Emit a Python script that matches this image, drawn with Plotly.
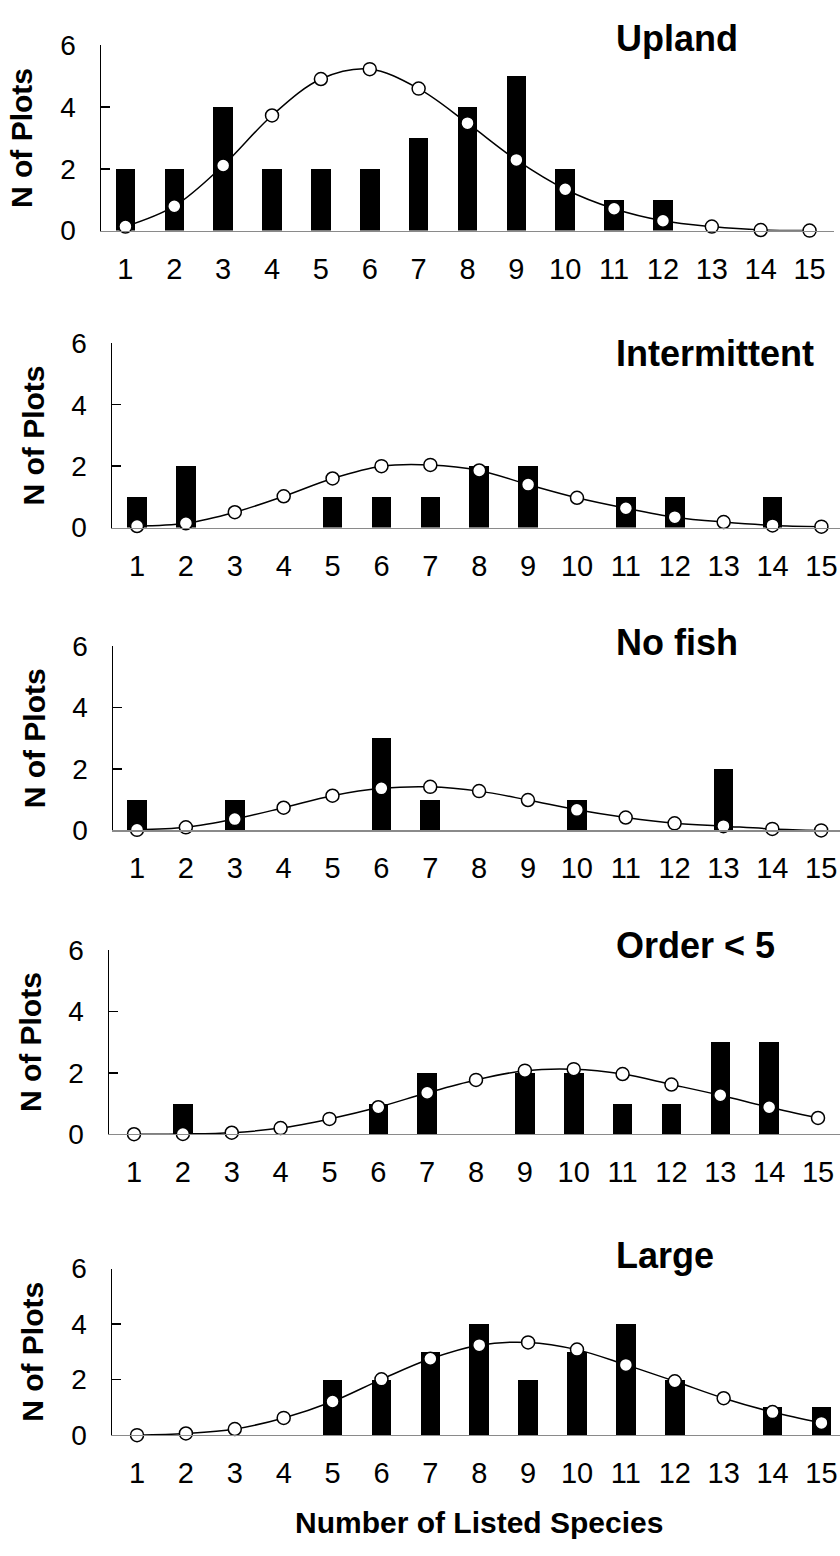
import plotly.graph_objects as go

W, H = 840, 1556

species = list(range(1, 16))
tick_labels = [str(v) for v in species]
y_ticks = [0, 2, 4, 6]

panel_titles = ["Upland", "Intermittent", "No fish", "Order < 5", "Large"]

upland_obs = [2, 2, 4, 2, 2, 2, 3, 4, 5, 2, 1, 1, 0, 0, 0]
upland_fit = [0.13, 0.79, 2.11, 3.73, 4.91, 5.23, 4.6, 3.48, 2.29, 1.34, 0.71, 0.32, 0.13, 0.02, 0.0]

intermittent_obs = [1, 2, 0, 0, 1, 1, 1, 2, 2, 0, 1, 1, 0, 1, 0]
intermittent_fit = [0.05, 0.14, 0.5, 1.02, 1.6, 2.0, 2.04, 1.86, 1.4, 0.97, 0.63, 0.34, 0.18, 0.07, 0.03]

nofish_obs = [1, 0, 1, 0, 0, 3, 1, 0, 0, 1, 0, 0, 2, 0, 0]
nofish_fit = [0.02, 0.1, 0.37, 0.74, 1.13, 1.37, 1.42, 1.28, 0.99, 0.67, 0.42, 0.23, 0.14, 0.05, 0.0]

order_obs = [0, 1, 0, 0, 0, 1, 2, 0, 2, 2, 1, 1, 3, 3, 0]
order_fit = [0.0, 0.01, 0.05, 0.2, 0.5, 0.88, 1.35, 1.77, 2.07, 2.12, 1.96, 1.62, 1.27, 0.88, 0.53]

large_obs = [0, 0, 0, 0, 2, 2, 3, 4, 2, 3, 4, 2, 0, 1, 1]
large_fit = [0.0, 0.06, 0.22, 0.62, 1.21, 2.01, 2.75, 3.24, 3.34, 3.08, 2.53, 1.94, 1.33, 0.83, 0.44]

observed = [upland_obs, intermittent_obs, nofish_obs, order_obs, large_obs]
fitted = [upland_fit, intermittent_fit, nofish_fit, order_fit, large_fit]

# pixel geometry of each panel: left, right, top, bottom, x-range, title y
panels = [
    dict(l=101, r=834, t=31, b=220, xr=[0.5, 15.5], ty=24),
    dict(l=112, r=840, t=335, b=523, xr=[0.488, 15.38], ty=345),
    dict(l=113, r=840, t=644, b=832, xr=[0.509, 15.385], ty=640),
    dict(l=109, r=840, t=954, b=1142, xr=[0.488, 15.45], ty=949),
    dict(l=112, r=840, t=1279, b=1449, xr=[0.488, 15.38], ty=1266),
]

FONT = "Liberation Sans, Arial, Helvetica, sans-serif"

fig = go.Figure()
annotations = []
layout_axes = {}

for i, p in enumerate(panels):
    n = i + 1
    xa = "x" if n == 1 else f"x{n}"
    ya = "y" if n == 1 else f"y{n}"
    fig.add_trace(go.Bar(
        x=species, y=observed[i], width=0.4,
        marker=dict(color="black", line=dict(width=0)),
        xaxis=xa, yaxis=ya, showlegend=False,
    ))
    fig.add_trace(go.Scatter(
        x=species, y=fitted[i], mode="lines+markers",
        line=dict(color="black", width=1.5, shape="spline", smoothing=1.0),
        marker=dict(size=13, color="white", line=dict(color="black", width=1.5)),
        cliponaxis=False,
        xaxis=xa, yaxis=ya, showlegend=False,
    ))
    xkey = "xaxis" if n == 1 else f"xaxis{n}"
    ykey = "yaxis" if n == 1 else f"yaxis{n}"
    layout_axes[xkey] = dict(
        domain=[p["l"] / W, p["r"] / W], range=p["xr"], anchor=ya,
        tickvals=species, ticktext=tick_labels, ticks="",
        showline=True, linecolor="#8a8a8a", linewidth=1.2,
        showgrid=False, zeroline=False, fixedrange=True,
        tickfont=dict(family=FONT, size=29, color="black"),
        ticklabelstandoff=12,
    )
    layout_axes[ykey] = dict(
        domain=[1 - p["b"] / H, 1 - p["t"] / H], range=[0, 6], anchor=xa,
        tickvals=y_ticks, ticks="inside", ticklen=9, tickwidth=1.5, tickcolor="black",
        showline=True, linecolor="black", linewidth=1.5,
        showgrid=False, zeroline=False, fixedrange=True,
        tickfont=dict(family=FONT, size=28, color="black"),
        ticklabelstandoff=18,
    )
    annotations.append(dict(
        text="<b>%s</b>" % panel_titles[i], xref="paper", yref="paper",
        x=614 / W, y=1 - p["ty"] / H, xanchor="left", yanchor="middle",
        showarrow=False, font=dict(family=FONT, size=36, color="black"),
    ))
    annotations.append(dict(
        text="<b>N of Plots</b>", xref="paper", yref="paper", textangle=-90,
        x=(p["l"] - 79) / W, y=1 - (p["t"] + p["b"]) / 2 / H,
        xanchor="center", yanchor="middle",
        showarrow=False, font=dict(family=FONT, size=30, color="black"),
    ))

annotations.append(dict(
    text="<b>Number of Listed Species</b>", xref="paper", yref="paper",
    x=479 / W, y=1 - 1538 / H, xanchor="center", yanchor="middle",
    showarrow=False, font=dict(family=FONT, size=30, color="black"),
))

fig.update_layout(
    width=W, height=H, autosize=False,
    margin=dict(l=0, r=0, t=0, b=0),
    paper_bgcolor="white", plot_bgcolor="white",
    annotations=annotations, bargap=0, hovermode=False,
    **layout_axes,
)

fig.write_html(
    "out.html",
    config={"displayModeBar": False, "staticPlot": True},
    post_script="document.body.style.margin='0';document.body.style.padding='0';",
)
